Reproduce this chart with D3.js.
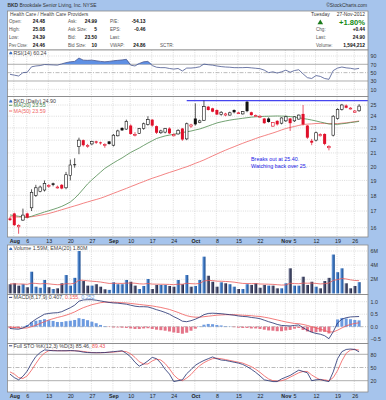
<!DOCTYPE html>
<html><head><meta charset="utf-8">
<script src="https://cdn.jsdelivr.net/npm/d3@7"></script>
<style>
html,body{margin:0;padding:0;background:#a6c4ec;}
svg{display:block;font-family:"Liberation Sans",Arial,sans-serif;}
</style></head><body>
<svg id="c" width="386" height="400"></svg>
<script>
const dates = ["Jul 31","Aug 1","Aug 2","Aug 3","Aug 6","Aug 7","Aug 8","Aug 9","Aug 10","Aug 13","Aug 14","Aug 15","Aug 16","Aug 17","Aug 20","Aug 21","Aug 22","Aug 23","Aug 24","Aug 27","Aug 28","Aug 29","Aug 30","Aug 31","Sep 4","Sep 5","Sep 6","Sep 7","Sep 10","Sep 11","Sep 12","Sep 13","Sep 14","Sep 17","Sep 18","Sep 19","Sep 20","Sep 21","Sep 24","Sep 25","Sep 26","Sep 27","Sep 28","Oct 1","Oct 2","Oct 3","Oct 4","Oct 5","Oct 8","Oct 9","Oct 10","Oct 11","Oct 12","Oct 15","Oct 16","Oct 17","Oct 18","Oct 19","Oct 22","Oct 23","Oct 24","Oct 25","Oct 26","Oct 31","Nov 1","Nov 2","Nov 5","Nov 6","Nov 7","Nov 8","Nov 9","Nov 12","Nov 13","Nov 14","Nov 15","Nov 16","Nov 19","Nov 20","Nov 21","Nov 23","Nov 26","Nov 27"];
const open = [16.55,16.85,16.05,16.45,16.85,17.2,18.0,18.25,18.35,18.6, 18.8,18.5,18.7,18.5,19.35,20.15,21.5,22.0,21.5,21.7, 21.9,21.82,21.6,21.9,21.6,22.35,23.0,22.9,23.2,22.4, 22.55,22.95,23.3,23.7,23.15,22.6,22.65,22.95,22.35,22.5, 22.95,22.1,23.15,23.8,23.45,23.65,24.85,24.7,24.55,24.15, 24.1,24.1,24.55,24.25,24.2,25.3,24.35,24.0,23.95,23.8, 23.8,23.15,23.6,23.4,23.6,23.8,23.6,23.75,24.2,23.2, 21.95,22.0,22.35,22.5,21.4,22.4,23.8,24.6,24.95,24.65, 24.35,24.48];
const high = [16.65,16.9,16.2,17.15,16.9,18.4,18.7,18.65,19.0,18.75, 18.85,18.65,18.75,19.6,20.5,20.6,22.2,22.05,21.7,21.95, 21.95,21.88,21.75,21.92,22.5,22.85,23.05,23.7,23.3,22.65, 23.0,23.45,24.0,23.75,23.2,22.85,23.0,23.05,22.55,22.9, 23.0,23.45,23.35,25.15,23.7,25.4,24.9,24.75,24.6,24.45, 24.3,24.4,24.6,24.4,24.45,25.35,24.4,24.15,24.1,23.85, 23.9,23.5,23.65,23.9,24.05,23.85,24.0,24.15,25.0,23.25, 22.1,22.7,22.55,22.55,21.6,24.1,24.7,25.1,25.05,24.8, 24.55,25.08];
const low = [16.4,16.1,15.65,16.4,16.55,17.0,17.9,18.2,18.25,18.5, 18.6,18.45,18.4,18.4,19.0,19.9,20.9,21.5,21.4,21.6, 21.7,21.65,21.4,21.65,21.5,22.3,22.75,22.85,22.45,22.3, 22.5,22.85,23.2,23.1,22.5,22.5,22.55,22.5,22.3,22.45, 21.95,22.0,23.0,23.2,23.4,23.6,24.5,24.35,24.1,24.05, 24.0,24.05,24.25,24.2,24.15,24.35,24.05,23.95,23.85,23.35, 23.45,23.1,23.2,23.3,23.5,22.75,23.5,23.7,23.2,22.1, 21.6,21.9,22.3,21.6,21.2,22.3,23.7,24.5,24.7,24.6, 24.3,24.39];
const close = [16.45,16.15,16.12,16.75,16.6,18.2,18.5,18.55,18.8,18.65, 18.7,18.55,18.45,19.4,20.1,20.12,22.0,21.6,21.58,21.9, 21.8,21.75,21.65,21.7,22.4,22.75,22.8,23.55,22.5,22.47, 22.95,23.35,23.7,23.2,22.6,22.75,22.95,22.55,22.45,22.8, 22.05,23.35,23.25,23.3,23.6,24.85,24.55,24.4,24.15,24.35, 24.2,24.3,24.35,24.3,24.4,24.45,24.1,24.05,24.0,23.4, 23.5,23.45,23.3,23.85,23.95,23.4,23.95,24.1,23.3,22.2, 21.8,22.6,22.45,21.7,21.5,24.0,24.6,25.0,24.75,24.72, 24.46,24.90];
const prevClose0 = 16.6;
const ma20 = [16.76,16.72,16.68,16.64,16.60,16.68,16.77,16.85,16.94,17.02, 17.10,17.19,17.29,17.42,17.57,17.80,18.09,18.42,18.76,19.04, 19.31,19.58,19.85,20.05,20.25,20.44,20.62,20.83,21.04,21.21, 21.38,21.58,21.77,21.95,22.13,22.24,22.34,22.41,22.47,22.55, 22.62,22.68,22.74,22.83,22.91,23.03,23.16,23.29,23.42,23.51, 23.59,23.66,23.72,23.77,23.82,23.87,23.92,23.95,23.97,23.99, 24.00,24.01,24.02,24.01,24.00,23.97,23.93,23.87,23.80,23.74, 23.67,23.59,23.50,23.42,23.33,23.31,23.30,23.35,23.39,23.45, 23.50,23.55];
const ma50 = [16.65,16.64,16.63,16.63,16.64,16.65,16.69,16.74,16.79,16.85, 16.92,17.00,17.08,17.16,17.24,17.32,17.40,17.49,17.57,17.65, 17.73,17.81,17.91,18.02,18.13,18.24,18.35,18.46,18.58,18.69, 18.81,18.92,19.04,19.15,19.25,19.35,19.46,19.56,19.66,19.76, 19.87,19.97,20.09,20.22,20.34,20.47,20.62,20.77,20.92,21.07, 21.21,21.35,21.48,21.62,21.75,21.88,22.00,22.13,22.25,22.36, 22.47,22.58,22.70,22.83,22.95,23.04,23.12,23.21,23.29,23.32, 23.34,23.37,23.39,23.38,23.37,23.37,23.36,23.40,23.43,23.48, 23.53,23.59];
const volume = [1.3,1.43,1.1,1.3,0.87,3.07,0.95,0.8,1.9,0.87, 0.62,0.72,1.43,2.6,1.1,2.2,6.0,1.75,1.1,1.1, 1.3,0.95,0.58,0.5,1.57,1.3,1.3,1.9,1.65,1.1, 0.62,1.05,2.04,0.62,1.2,1.2,1.2,1.05,0.95,1.9, 1.3,2.6,0.95,1.05,1.9,5.2,2.5,1.65,0.95,1.57, 1.43,1.3,0.95,0.62,0.62,1.3,1.2,1.43,0.8,1.2, 1.1,1.1,0.72,0.72,1.43,3.55,1.1,1.1,2.36,1.2, 1.65,0.95,0.72,1.75,2.2,5.5,3.0,3.55,1.43,0.72, 1.05,1.59];
const volEma = [1.35,1.35,1.33,1.33,1.28,1.45,1.41,1.35,1.40,1.35, 1.28,1.23,1.25,1.38,1.35,1.43,1.87,1.85,1.78,1.72, 1.68,1.61,1.51,1.41,1.43,1.42,1.41,1.45,1.47,1.44, 1.36,1.33,1.40,1.32,1.31,1.30,1.29,1.27,1.24,1.30, 1.30,1.43,1.38,1.35,1.40,1.76,1.83,1.82,1.73,1.72, 1.69,1.65,1.59,1.50,1.41,1.40,1.38,1.39,1.33,1.32, 1.30,1.28,1.23,1.18,1.20,1.43,1.39,1.37,1.46,1.44, 1.46,1.41,1.34,1.38,1.46,1.84,1.95,2.11,2.04,1.92, 1.83,1.80];
const rsi = [46,44,42,50,51,64,66,67,69.5,69, 68.5,68,71,74,76,77,85,80,79.5,80, 78.5,77,76,77,78.5,79.5,80.5,82,68,66, 72,76,77,67,63,62,62,60,58.5,60, 54,61,61,62,64,70.5,69,68,66,64.5, 63.5,63,62,62,62,62.5,61.5,60.5,59.5,56, 50,52,49,52,56,51,55,57,47,38, 36,43,41,36,34,55,61,63.5,61.5,60.5, 58.5,60.24];
const macd = [-0.07,-0.09,-0.10,-0.05,0.02,0.18,0.30,0.40,0.50,0.53, 0.55,0.56,0.60,0.68,0.76,0.86,1.02,1.07,1.08,1.08, 1.06,1.03,1.00,0.97,0.95,0.94,0.92,0.90,0.86,0.82, 0.80,0.80,0.79,0.74,0.68,0.63,0.57,0.50,0.40,0.32, 0.22,0.20,0.24,0.30,0.38,0.48,0.53,0.54,0.53,0.52, 0.50,0.48,0.46,0.43,0.41,0.40,0.37,0.35,0.32,0.26, 0.20,0.15,0.09,0.05,0.04,0.03,0.05,0.07,-0.04,-0.14, -0.22,-0.27,-0.30,-0.36,-0.48,-0.20,0.15,0.30,0.36,0.39, 0.40,0.407];
const macdSignal = [-0.01,-0.03,-0.05,-0.06,-0.05,0.00,0.06,0.13,0.20,0.27, 0.32,0.37,0.41,0.46,0.52,0.59,0.68,0.76,0.82,0.88, 0.92,0.96,0.98,0.98,0.98,0.97,0.96,0.95,0.93,0.91, 0.89,0.87,0.85,0.83,0.80,0.77,0.73,0.69,0.63,0.57, 0.50,0.44,0.40,0.38,0.38,0.40,0.42,0.44,0.46,0.47, 0.48,0.48,0.48,0.47,0.46,0.45,0.44,0.42,0.41,0.38, 0.35,0.31,0.27,0.23,0.19,0.16,0.13,0.12,0.09,0.05, 0.00,-0.05,-0.10,-0.15,-0.21,-0.21,-0.14,-0.05,0.03,0.09, 0.13,0.155];
const stoK = [35,27,22,30,42,60,75,84,90,89, 88,88,88,88,88.5,88,87,85,84,83.6, 83.6,83.8,84,85,86,87,88,82,74,62, 53,58,65,73,70,60,46,35,18,20, 22,36,45,55,61,66,70,74,70,67, 66,64,62,60,57,52,46,39,31,22, 20,18,18,24,28,32,38,44,41,38, 20,22,23,20,18,40,70,86,91,92, 91,85.46];
const stoD = [40,35,27,25,31,44,59,73,83,88, 89,88,88,88,88,88,87.5,86.5,85,84, 83.5,83.5,84,84.5,85,86,87,86,81,73, 63,58,58,65,69,67,59,47,33,24, 20,26,34,45,54,61,66,70,71,70, 68,66,64,62,60,56,52,46,39,31, 24,20,19,20,23,28,33,38,41,41, 33,27,22,22,20,27,43,65,82.3,89.7, 91.3,89.43];
const tickDates = ["Aug 1","Aug 6","Aug 13","Aug 20","Aug 27","Sep 4","Sep 10","Sep 17","Sep 24","Oct 1","Oct 8","Oct 15","Oct 22","Nov 1","Nov 5","Nov 12","Nov 19","Nov 26"];
const tickLabels = ["Aug","6","13","20","27","Sep","10","17","24","Oct","8","15","22","Nov","5","12","19","26"];
const priceTicks = [16,17,18,19,20,21,22,23,24,25];
const rsiTicks = [90,70,50,30,10];
const volTicks = [2,4,6];
const macdTicks = [1.0,0.5,0.0,-0.5];
const stoTicks = [80,50,20];
const resistance = 25.40, resistanceStart = "Sep 27";
const noteLines = ["Breaks out at 25.40.","Watching back over 25."];

const svg = d3.select("#c");
const L = 7.5, R = 368;
const FS = 5.3;
const defs = svg.append("defs");
function grad(id, stops){const g=defs.append("linearGradient").attr("id",id).attr("x1",0).attr("x2",1).attr("y1",0).attr("y2",0);stops.forEach(s=>g.append("stop").attr("offset",s[0]).attr("stop-color",s[1]));}
grad("gUp",[[0,"#8fb5e6"],[0.45,"#3d76c0"],[1,"#1d4d8e"]]);
grad("gDn",[[0,"#9da2b8"],[0.45,"#474c6c"],[1,"#1e2340"]]);

const x = d3.scalePoint().domain(dates).range([10, 359.1]);
const P = {rsi:[50,96.5], price:[96.5,237], vol:[245,294.5], macd:[294.5,343.5], sto:[343.5,392]};
Object.entries(P).forEach(([k,v])=>{
  defs.append("clipPath").attr("id","cl_"+k).append("rect").attr("x",L).attr("y",v[0]).attr("width",R-L).attr("height",v[1]-v[0]);
});
function txt(g,xx,yy,s,o={}){const e=g.append("text").attr("x",xx).attr("y",yy).text(s).attr("font-size",o.size||FS).attr("fill",o.fill||"#333").attr("font-weight",o.bold?"bold":null).attr("text-anchor",o.anchor||"start");if(o.len){e.attr("textLength",o.len).attr("lengthAdjust","spacingAndGlyphs");}return e;}

// title
const t = svg.append("text").attr("x",7.5).attr("y",6.6).attr("font-size",4.9).attr("fill","#333");
t.append("tspan").attr("font-weight","bold").text("BKD");
t.append("tspan").text(" Brookdale Senior Living, Inc.  NYSE");
txt(svg,367,6.6,"©StockCharts.com",{anchor:"end",size:4.9});

// header box
const hd = svg.append("g");
hd.append("rect").attr("x",L).attr("y",11).attr("width",R-L).attr("height",39).attr("fill","#fff").attr("stroke","#8a8a8a").attr("stroke-width",0.8);
txt(hd,10,16,"Health Care / Health Care Providers",{fill:"#444",size:4.9});
const rowsY=[23,31,39,47];
const c1L=["Open:","High:","Low:","Prev Close:"], c1V=["24.48","25.08","24.39","24.46"];
const c2L=["Ask:","Ask Size:","Bid:","Bid Size:"], c2V=["24.99","5","23.50","10"];
const c3L=["P/E:","EPS:","Last:","VWAP:"], c3V=["-54.13","-0.46","","24.86"];
rowsY.forEach((yy,i)=>{
  txt(hd,9,yy,c1L[i],{fill:"#555",size:4.6,len:i===3?18.5:null}); txt(hd,45,yy,c1V[i],{anchor:"end",bold:true,fill:"#111",size:4.9});
  txt(hd,68,yy,c2L[i],{fill:"#555",size:4.6}); txt(hd,97,yy,c2V[i],{anchor:"end",bold:true,fill:"#111",size:4.9});
  txt(hd,110,yy,c3L[i],{fill:"#555",size:4.6}); txt(hd,145.5,yy,c3V[i],{anchor:"end",bold:true,fill:"#111",size:4.9});
});
txt(hd,160,47,"SCTR:",{fill:"#555",size:4.6});
txt(hd,311,16,"Tuesday",{fill:"#333",size:4.9});
txt(hd,365,16,"27-Nov-2012",{anchor:"end",fill:"#333",size:4.9});
hd.append("path").attr("d","M317.5,24.2 L320.3,19.4 L323.1,24.2 Z").attr("fill","#1a7a1a");
txt(hd,365,24.6,"+1.80%",{anchor:"end",bold:true,fill:"#148a14",size:7.6});
[["Chg:","+0.44",31],["Last:","24.90",38.5],["Volume:","1,594,212",46.5]].forEach(r=>{
  txt(hd,316,r[2],r[0],{fill:"#555",size:4.6}); txt(hd,365,r[2],r[1],{anchor:"end",bold:true,fill:"#111",size:4.9});
});

// panel backgrounds
Object.values(P).forEach(v=>svg.append("rect").attr("x",L).attr("y",v[0]).attr("width",R-L).attr("height",v[1]-v[0]).attr("fill","#fff"));

// scales
const yR = d3.scaleLinear().domain([0,100]).range([93.5,51.8]);
const yP = d3.scaleLog().domain([16,25]).range([227.7,105]);
const yV = d3.scaleLinear().domain([0,6]).range([293.4,251]);
const yM = d3.scaleLinear().domain([-0.5,1.0]).range([339.2,301.7]);
const yS = d3.scaleLinear().domain([20,80]).range([380.7,354.3]);

// grids
const gridC="#c4c4c4";
Object.entries(P).forEach(([k,v])=>{
  tickDates.forEach(d=>svg.append("line").attr("x1",x(d)-0.5).attr("x2",x(d)-0.5).attr("y1",v[0]).attr("y2",v[1]).attr("stroke",gridC).attr("stroke-width",0.6).attr("stroke-dasharray","1,1.2"));
});
function hgrid(ticks,sc,style){ticks.forEach(tv=>{const s=style?style(tv):{};svg.append("line").attr("x1",L).attr("x2",R).attr("y1",sc(tv)).attr("y2",sc(tv)).attr("stroke",s.c||gridC).attr("stroke-width",s.w||0.6).attr("stroke-dasharray",s.d===undefined?"1,1.2":s.d);});}
hgrid(rsiTicks,yR,v=>v===70||v===30?{c:"#9a9a9a",w:0.8,d:null}:(v===50?{c:"#aaa",w:0.8,d:"4,1.5,1,1.5"}:{}));
hgrid(priceTicks,yP);
hgrid(volTicks,yV);
hgrid(macdTicks,yM,v=>v===0?{c:"#aaa",w:0.8,d:"4,1.5,1,1.5"}:{});
hgrid(stoTicks,yS,v=>v===50?{c:"#aaa",w:0.8,d:"4,1.5,1,1.5"}:{c:"#9a9a9a",w:0.8,d:null});

// RSI
const gR = svg.append("g").attr("clip-path","url(#cl_rsi)");
gR.append("path").datum(rsi).attr("d",d3.area().x((d,i)=>x(dates[i])).y0(yR(70)).y1(d=>yR(Math.max(d,70)))).attr("fill","#5f90e4");
gR.append("path").datum(rsi).attr("d",d3.line().x((d,i)=>x(dates[i])).y(d=>yR(d))).attr("fill","none").attr("stroke","#4a5890").attr("stroke-width",0.8);

// Price
const gP = svg.append("g").attr("clip-path","url(#cl_price)");
gP.append("line").attr("x1",x(resistanceStart)).attr("x2",R).attr("y1",yP(resistance)).attr("y2",yP(resistance)).attr("stroke","#4646f0").attr("stroke-width",1.1);
gP.append("path").datum(ma50).attr("d",d3.line().x((d,i)=>x(dates[i])).y(d=>yP(d))).attr("fill","none").attr("stroke","#f06464").attr("stroke-width",0.8);
gP.append("path").datum(ma20).attr("d",d3.line().x((d,i)=>x(dates[i])).y(d=>yP(d))).attr("fill","none").attr("stroke","#4f8a4f").attr("stroke-width",0.8);
dates.forEach((d,i)=>{
  const o=open[i],c=close[i],pc=i?close[i-1]:prevClose0;
  const col = c>=pc?"#111":"#e0102a";
  const cx = x(d);
  gP.append("line").attr("x1",cx).attr("x2",cx).attr("y1",yP(high[i])).attr("y2",yP(low[i])).attr("stroke",col).attr("stroke-width",0.7);
  const top=yP(Math.max(o,c)), bot=yP(Math.min(o,c)), h=Math.max(0.9,bot-top);
  if(c>=o){gP.append("rect").attr("x",cx-1.3).attr("y",top).attr("width",2.6).attr("height",h).attr("fill","#fff").attr("stroke",col).attr("stroke-width",0.6);}
  else{gP.append("rect").attr("x",cx-1.5).attr("y",top).attr("width",3).attr("height",h).attr("fill",col);}
});
noteLines.forEach((s,i)=>txt(svg,251,161+i*7,s,{fill:"#2020e6",size:5.4}));

// Volume
const gV = svg.append("g").attr("clip-path","url(#cl_vol)");
volume.forEach((v,i)=>{
  const pc=i?close[i-1]:prevClose0;
  gV.append("rect").attr("x",x(dates[i])-1.6).attr("y",yV(v)).attr("width",3.2).attr("height",yV(0)-yV(v)).attr("fill",close[i]>=pc?"url(#gUp)":"url(#gDn)");
});
gV.append("path").datum(volEma).attr("d",d3.line().x((d,i)=>x(dates[i])).y(d=>yV(d))).attr("fill","none").attr("stroke","#e85a5a").attr("stroke-width",0.8);

// MACD
const gM = svg.append("g").attr("clip-path","url(#cl_macd)");
macd.forEach((m,i)=>{
  const h=m-macdSignal[i];
  gM.append("rect").attr("x",x(dates[i])-1.5).attr("y",Math.min(yM(h),yM(0))).attr("width",3).attr("height",Math.max(0.3,Math.abs(yM(h)-yM(0)))).attr("fill",h>=0?"#6d9be0":"#e47488");
});
gM.append("path").datum(macdSignal).attr("d",d3.line().x((d,i)=>x(dates[i])).y(d=>yM(d))).attr("fill","none").attr("stroke","#f05a5a").attr("stroke-width",0.8);
gM.append("path").datum(macd).attr("d",d3.line().x((d,i)=>x(dates[i])).y(d=>yM(d))).attr("fill","none").attr("stroke","#1f2d6e").attr("stroke-width",0.8);

// STO
const gS = svg.append("g").attr("clip-path","url(#cl_sto)");
gS.append("path").datum(stoD).attr("d",d3.line().x((d,i)=>x(dates[i])).y(d=>yS(d))).attr("fill","none").attr("stroke","#f05a5a").attr("stroke-width",0.8);
gS.append("path").datum(stoK).attr("d",d3.line().x((d,i)=>x(dates[i])).y(d=>yS(d))).attr("fill","none").attr("stroke","#1f2d6e").attr("stroke-width",0.8);

// borders
Object.values(P).forEach(v=>svg.append("rect").attr("x",L).attr("y",v[0]).attr("width",R-L).attr("height",v[1]-v[0]).attr("fill","none").attr("stroke","#8a8a8a").attr("stroke-width",0.8));

// right axes
function rAxis(sc,ticks,fmt){
  const g=svg.append("g").attr("transform",`translate(${R+2.5},0)`).call(d3.axisRight(sc).tickValues(ticks).tickSize(0).tickPadding(0).tickFormat(fmt));
  g.select(".domain").remove();
  g.selectAll("text").attr("font-size",FS).attr("fill","#333").attr("font-family","Liberation Sans, Arial, sans-serif");
}
rAxis(yR,rsiTicks,d3.format("d"));
rAxis(yP,priceTicks,d3.format("d"));
rAxis(yV,volTicks,d=>d+"M");
rAxis(yM,macdTicks,d3.format(".1f"));
rAxis(yS,stoTicks,d3.format("d"));

// date axes
function dAxis(yy){
  const g=svg.append("g").attr("transform",`translate(0,${yy})`).call(d3.axisBottom(x).tickValues(tickDates).tickSize(0).tickPadding(0).tickFormat((d,i)=>tickLabels[i]));
  g.select(".domain").remove();
  g.selectAll("text").attr("font-size",FS).attr("fill","#222").attr("font-family","Liberation Sans, Arial, sans-serif")
   .attr("font-weight",(d,i)=>/^[A-Z]/.test(tickLabels[i])?"bold":null);
}
dAxis(239);
dAxis(393.8);

// legends
function icon(xx,yy){svg.append("path").attr("d",`M${xx},${yy+1.6} L${xx+1.2},${yy-1.4} L${xx+2},${yy} L${xx+2.8},${yy-0.8} L${xx+3.4},${yy+1.6} Z`).attr("fill","#3a6fc0");}
function dash(xx,yy,col){svg.append("line").attr("x1",xx).attr("x2",xx+3.2).attr("y1",yy).attr("y2",yy).attr("stroke",col).attr("stroke-width",0.9);}
icon(9,52.6); txt(svg,13.5,54.5,"RSI(14) 60.24",{fill:"#444"});
icon(9,100.8); txt(svg,13.5,102.7,"BKD (Daily) 24.90",{fill:"#444"});
dash(9,105.3,"#4f8a4f"); txt(svg,13.5,107.2,"MA(20) 23.55",{fill:"#4f8a4f"});
dash(9,111,"#f06464"); txt(svg,13.5,112.9,"MA(50) 23.59",{fill:"#f06464"});
icon(9,248.4); txt(svg,13.5,250.3,"Volume 1.59M, EMA(20) 1.80M",{fill:"#444"});
dash(9,297.4,"#1f2d6e");
const mt=svg.append("text").attr("x",13.5).attr("y",299.3).attr("font-size",FS).attr("fill","#444");
mt.append("tspan").text("MACD(8,17,9) 0.407, ");
mt.append("tspan").attr("fill","#f05a5a").text("0.155, ");
mt.append("tspan").attr("fill","#6d9be0").text("0.252");
dash(9,345.8,"#1f2d6e");
const st=svg.append("text").attr("x",13.5).attr("y",347.7).attr("font-size",FS).attr("fill","#444");
st.append("tspan").text("Full STO %K(12,3) %D(3) 85.46, ");
st.append("tspan").attr("fill","#f05a5a").text("89.43");
</script>
</body></html>
